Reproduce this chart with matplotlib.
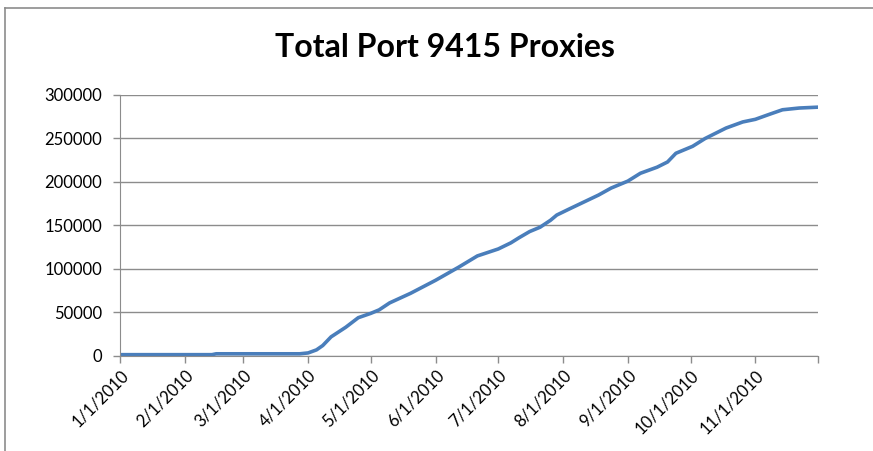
import numpy as np
import pandas as pd
import matplotlib
matplotlib.use("Agg")
import matplotlib.pyplot as plt
import matplotlib.dates as mdates
from matplotlib.lines import Line2D

# values
dates = ["2010-01-01", "2010-02-14", "2010-02-16", "2010-03-28", "2010-04-01",
         "2010-04-05", "2010-04-08", "2010-04-12", "2010-04-19", "2010-04-25",
         "2010-05-01", "2010-05-05", "2010-05-10", "2010-05-20", "2010-06-01",
         "2010-06-12", "2010-06-21", "2010-07-01", "2010-07-07", "2010-07-11",
         "2010-07-16", "2010-07-21", "2010-07-26", "2010-07-29", "2010-08-04",
         "2010-08-11", "2010-08-18", "2010-08-24", "2010-09-01", "2010-09-07",
         "2010-09-15", "2010-09-20", "2010-09-24", "2010-10-02", "2010-10-08",
         "2010-10-18", "2010-10-26", "2010-11-01", "2010-11-08", "2010-11-14",
         "2010-11-22", "2010-12-01"]
proxies = [1500, 1500, 2500, 2500, 3500,
           7000, 12000, 22000, 33000, 44000,
           49000, 53000, 61000, 72000, 87000,
           102000, 115000, 123000, 130000, 136000,
           143000, 148000, 156000, 162000, 169000,
           177000, 185000, 193000, 201000, 210000,
           217000, 223000, 233000, 241000, 250000,
           262000, 269000, 272000, 278000, 283000,
           285000, 286000]
tick_months = pd.date_range("2010-01-01", "2010-12-01", freq="MS")
tick_labels = [f"{d.month}/1/2010" for d in tick_months[:-1]] + [""]
y_ticks = list(range(0, 300001, 50000))

title = "Total Port 9415 Proxies"
font = ["Lato", "DejaVu Sans"]
grid_col = "#8c8c8c"

x = pd.to_datetime(dates)

fig = plt.figure(figsize=(8.73, 4.51), dpi=100)
ax = fig.add_axes([0.1375, 0.2107, 0.7995, 0.5787])

ax.plot(x, proxies, color="#4a7ebb", lw=2.6, solid_capstyle="round")

ax.set_xlim(tick_months[0], tick_months[-1])
ax.set_ylim(0, 300000)
ax.set_yticks(y_ticks)
ax.set_yticklabels([str(v) for v in y_ticks], family=font, fontsize=12)
ax.set_xticks(tick_months)
ax.set_xticklabels(tick_labels, family=font, fontsize=12, rotation=45,
                   ha="right", rotation_mode="anchor")

ax.yaxis.grid(True, color=grid_col, lw=1)
ax.set_axisbelow(True)
for s in ["top", "right"]:
    ax.spines[s].set_visible(False)
for s in ["left", "bottom"]:
    ax.spines[s].set_color(grid_col)
ax.tick_params(axis="both", color=grid_col, length=5, width=1)
ax.tick_params(axis="y", pad=8)
ax.tick_params(axis="x", pad=3)

fig.text(0.51, 0.895, title, ha="center", va="center", family=font,
         fontsize=23, fontweight="bold")

# chart frame (top and left edges visible)
fig.add_artist(Line2D([0.006, 0.006], [0.0, 0.982], transform=fig.transFigure,
                      color="#8c8c8c", lw=1.2))
fig.add_artist(Line2D([0.006, 1.0], [0.982, 0.982], transform=fig.transFigure,
                      color="#8c8c8c", lw=1.2))

fig.savefig("out.png", dpi=100)
